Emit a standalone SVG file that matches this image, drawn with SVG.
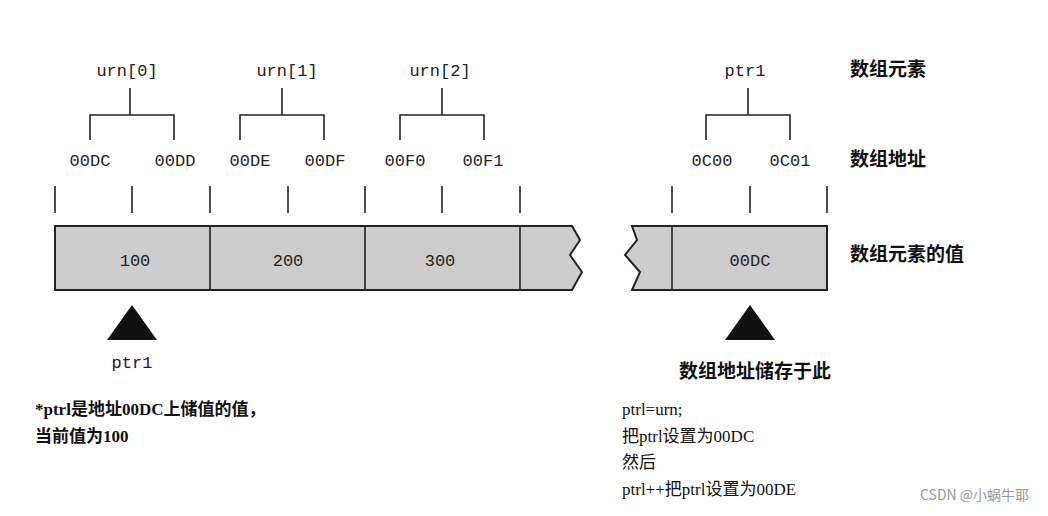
<svg xmlns="http://www.w3.org/2000/svg" width="1048" height="516" viewBox="0 0 1048 516">
<style>
.m{font-family:"Liberation Mono","DejaVu Sans Mono",monospace;font-size:17px;fill:#222;text-anchor:middle}
.c{font-family:"Liberation Serif","Noto Sans CJK SC",serif;font-size:19px;fill:#111;font-weight:bold}
.b{font-family:"Liberation Serif","Noto Sans CJK SC",serif;font-size:17px;fill:#111}
.l{fill:none;stroke:#222;stroke-width:1.6}
.box{fill:#cdcdcd;stroke:#222;stroke-width:2}
</style>
<rect width="1048" height="516" fill="#fff"/>
<g id="labels">
<text class="m" x="127" y="76">urn[0]</text>
<text class="m" x="287" y="76">urn[1]</text>
<text class="m" x="440" y="76">urn[2]</text>
<text class="m" x="745" y="76">ptr1</text>
<text class="c" x="850" y="76">数组元素</text>
<text class="c" x="850" y="166">数组地址</text>
<text class="c" x="850" y="261">数组元素的值</text>
</g>
<g id="connectors">
<path class="l" d="M130 88V115M90 140V115H174V140M282 88V115M240 140V115H324V140M442 88V115M400 140V115H484V140M748 88V115M706 140V115H790V140"/>
<path class="l" d="M55 186V213M132 186V213M210 186V213M288 186V213M365 186V213M442 186V213M520 186V213M672 186V213M750 186V213M827 186V213"/>
</g>
<g id="addresses">
<text class="m" x="90" y="166">00DC</text>
<text class="m" x="175" y="166">00DD</text>
<text class="m" x="250" y="166">00DE</text>
<text class="m" x="325" y="166">00DF</text>
<text class="m" x="405" y="166">00F0</text>
<text class="m" x="483" y="166">00F1</text>
<text class="m" x="712" y="166">0C00</text>
<text class="m" x="790" y="166">0C01</text>
</g>
<g id="array">
<path class="box" d="M55 226H572L580 240L570 255L582 272L572 290H55Z"/>
<path class="l" d="M210 226V290M365 226V290M520 226V290"/>
<text class="m" x="135" y="266">100</text>
<text class="m" x="288" y="266">200</text>
<text class="m" x="440" y="266">300</text>
</g>
<g id="pointer">
<path class="box" d="M632 226H827V290H632L640 272L625 255L637 240Z"/>
<path class="l" d="M672 226V290"/>
<text class="m" x="750" y="266">00DC</text>
</g>
<g id="triangles">
<polygon points="132,305 107,340 157,340" fill="#111"/>
<polygon points="750,305 725,340 775,340" fill="#111"/>
<text class="m" x="132" y="368">ptr1</text>
<text class="c" x="755" y="378" text-anchor="middle">数组地址储存于此</text>
</g>
<g id="notes">
<text class="b" x="35" y="415" font-weight="bold">*ptrl是地址00DC上储值的值，</text>
<text class="b" x="35" y="442" font-weight="bold">当前值为100</text>
<text class="b" x="622" y="415">ptrl=urn;</text>
<text class="b" x="622" y="442">把ptrl设置为00DC</text>
<text class="b" x="622" y="468">然后</text>
<text class="b" x="622" y="495">ptrl++把ptrl设置为00DE</text>
<text x="920" y="500" font-family="Noto Sans CJK SC,sans-serif" font-size="14" fill="#999">CSDN @小蜗牛耶</text>
</g>
</svg>
